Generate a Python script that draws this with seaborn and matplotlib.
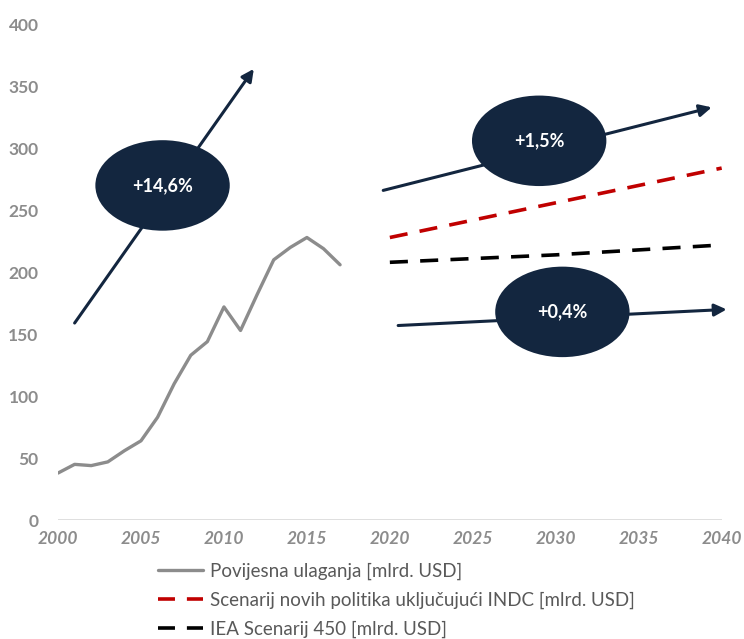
import matplotlib
matplotlib.use("Agg")
import matplotlib.pyplot as plt
from matplotlib.patches import Ellipse
import numpy as np
import pandas as pd
import seaborn as sns

# historical investment, 2000-2017
hist_years = list(range(2000, 2018))
hist_values = [38, 45, 44, 47, 56, 64, 83, 110, 133, 144, 172, 153, 182, 210, 220, 228, 219, 206]

# scenarios, 2020-2040
scen_years = [2020, 2025, 2030, 2035, 2040]
npol_values = [228, 242, 256, 270, 284]
s450_values = [208, 211, 214, 218, 222]

labels = ["Povijesna ulaganja [mlrd. USD]",
          "Scenarij novih politika uključujući INDC [mlrd. USD]",
          "IEA Scenarij 450 [mlrd. USD]"]

# growth arrows: start, end, ellipse centre, label
arrow_start = [(2001.0, 159), (2019.6, 266), (2020.5, 157)]
arrow_end = [(2011.8, 364), (2039.4, 333), (2040.3, 170)]
badge_xy = [(2006.3, 270), (2029.0, 306), (2030.4, 168)]
badge_text = ["+14,6%", "+1,5%", "+0,4%"]

navy = "#13263F"
tick_col = "#8C8C8C"

sns.set_style("white")
plt.rcParams['font.family'] = ['Lato', 'DejaVu Sans']

hist = pd.DataFrame({"year": hist_years, "value": hist_values})
npol = pd.DataFrame({"year": scen_years, "value": npol_values})
s450 = pd.DataFrame({"year": scen_years, "value": s450_values})

fig = plt.figure(figsize=(7.44, 6.39), dpi=100)
ax = fig.add_axes([0.078, 0.186, 0.892, 0.776])

sns.lineplot(data=hist, x="year", y="value", ax=ax, color="#8C8C8C", lw=2.4, label=labels[0])
sns.lineplot(data=npol, x="year", y="value", ax=ax, color="#C00000", lw=2.6, label=labels[1])
sns.lineplot(data=s450, x="year", y="value", ax=ax, color="#000000", lw=2.6, label=labels[2])
ax.lines[1].set_dashes([5, 3.4])
ax.lines[2].set_dashes([5, 3.4])

for (x0, y0), (x1, y1), (cx, cy), t in zip(arrow_start, arrow_end, badge_xy, badge_text):
    ax.annotate("", xy=(x1, y1), xytext=(x0, y0), annotation_clip=False,
                arrowprops=dict(arrowstyle="-|>", color=navy, lw=2.2, mutation_scale=18,
                                shrinkA=0, shrinkB=0), zorder=3)
    ax.add_patch(Ellipse((cx, cy), 8.1, 73, facecolor=navy, edgecolor="none", zorder=4,
                         clip_on=False))
    ax.text(cx, cy, t, color="white", ha="center", va="center", fontsize=13,
            fontweight="bold", zorder=5)

ax.set_xlim(2000, 2040)
ax.set_ylim(0, 400)
ax.set_xticks(range(2000, 2041, 5))
ax.set_yticks(range(0, 401, 50))
ax.set_xlabel("")
ax.set_ylabel("")
for s in ax.spines.values():
    s.set_visible(False)
ax.axhline(0, color="#D9D9D9", lw=1.2, zorder=0)
ax.tick_params(length=0, pad=14)
ax.tick_params(axis="x", pad=8)
for lab in ax.get_yticklabels():
    lab.set_color(tick_col)
    lab.set_fontweight("bold")
    lab.set_fontsize(12.5)
for lab in ax.get_xticklabels():
    lab.set_color(tick_col)
    lab.set_fontweight("bold")
    lab.set_fontstyle("italic")
    lab.set_fontsize(12.5)

leg = ax.legend(loc="upper left", bbox_to_anchor=(150 / 744, 1 - 555 / 639),
                bbox_transform=fig.transFigure, frameon=False, fontsize=13.5,
                handlelength=2.45, handletextpad=0.35, labelspacing=0.62,
                labelcolor="#595959", borderaxespad=0)
leg.get_lines()[1].set_dashes([4.7, 3.3])
leg.get_lines()[2].set_dashes([4.7, 3.3])

fig.savefig("out.png", dpi=100)
